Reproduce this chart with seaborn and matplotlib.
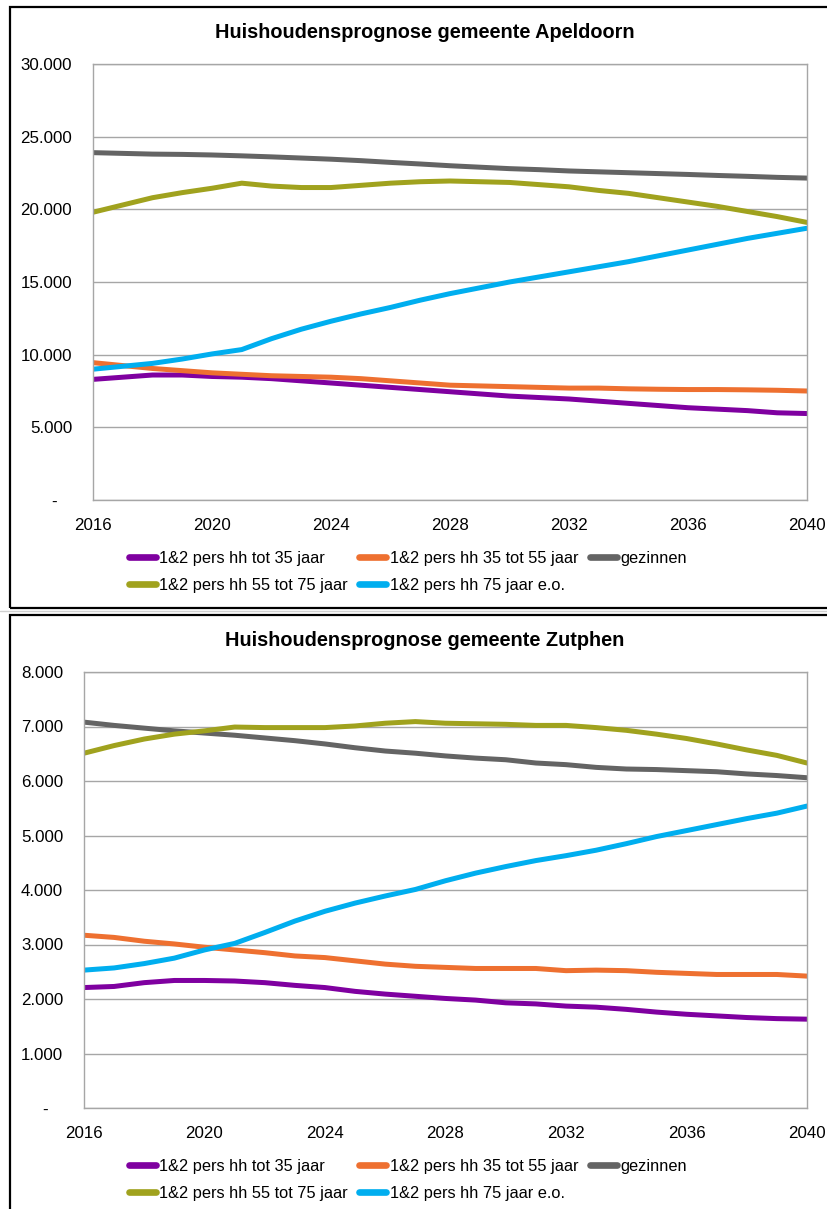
import numpy as np
import pandas as pd
import matplotlib
matplotlib.use("Agg")
import matplotlib.pyplot as plt
import seaborn as sns
from matplotlib.patches import Rectangle
from matplotlib.ticker import FuncFormatter

years = list(range(2016, 2041))
series_names = ["1&2 pers hh tot 35 jaar", "1&2 pers hh 35 tot 55 jaar", "gezinnen",
                "1&2 pers hh 55 tot 75 jaar", "1&2 pers hh 75 jaar e.o."]
colors = ["#7F00A0", "#EE7030", "#646464", "#A0A21E", "#00AEEF"]

# Apeldoorn
apd_tot35 = [8300, 8450, 8600, 8600, 8500, 8450, 8350, 8200, 8050, 7900, 7750, 7600, 7450,
             7300, 7150, 7050, 6950, 6800, 6650, 6500, 6350, 6250, 6150, 6000, 5950]
apd_35_55 = [9450, 9250, 9050, 8900, 8750, 8650, 8550, 8500, 8450, 8350, 8200, 8050, 7900,
             7850, 7800, 7750, 7700, 7700, 7650, 7620, 7600, 7600, 7580, 7550, 7500]
apd_gezin = [23900, 23850, 23800, 23780, 23740, 23680, 23610, 23530, 23450, 23350, 23230, 23120, 23000,
             22900, 22800, 22730, 22640, 22580, 22520, 22460, 22400, 22330, 22270, 22200, 22150]
apd_55_75 = [19800, 20300, 20800, 21150, 21450, 21800, 21600, 21500, 21500, 21650, 21800, 21900, 21950,
             21900, 21850, 21700, 21550, 21300, 21100, 20800, 20500, 20200, 19850, 19500, 19100]
apd_75plus = [9000, 9200, 9400, 9700, 10050, 10350, 11100, 11750, 12300, 12800, 13250, 13750, 14200,
              14600, 15000, 15350, 15700, 16050, 16400, 16800, 17200, 17600, 18000, 18350, 18700]

# Zutphen
ztp_tot35 = [2210, 2230, 2300, 2340, 2340, 2330, 2300, 2250, 2210, 2140, 2090, 2050, 2010,
             1980, 1930, 1910, 1870, 1850, 1810, 1760, 1720, 1690, 1660, 1640, 1630]
ztp_35_55 = [3170, 3130, 3060, 3010, 2950, 2900, 2850, 2790, 2760, 2700, 2640, 2600, 2580,
             2560, 2560, 2560, 2520, 2530, 2520, 2490, 2470, 2450, 2450, 2450, 2420]
ztp_gezin = [7080, 7020, 6970, 6920, 6880, 6840, 6790, 6740, 6680, 6610, 6550, 6510, 6460,
             6420, 6390, 6330, 6300, 6250, 6220, 6210, 6190, 6170, 6130, 6100, 6060]
ztp_55_75 = [6510, 6650, 6770, 6860, 6920, 6990, 6980, 6980, 6980, 7010, 7060, 7090, 7060,
             7050, 7040, 7020, 7020, 6980, 6930, 6860, 6780, 6680, 6570, 6470, 6330]
ztp_75plus = [2530, 2570, 2650, 2750, 2900, 3020, 3220, 3430, 3610, 3760, 3890, 4010, 4170,
              4310, 4430, 4540, 4630, 4730, 4850, 4980, 5090, 5200, 5310, 5410, 5540]

x_ticks = [2016, 2020, 2024, 2028, 2032, 2036, 2040]

titles = ["Huishoudensprognose gemeente Apeldoorn", "Huishoudensprognose gemeente Zutphen"]

sns.set_style("white")
plt.rcParams["font.family"] = ["Liberation Sans", "DejaVu Sans"]
plt.rcParams["text.color"] = "black"

W, H = 828, 1209
fig = plt.figure(figsize=(W / 100, H / 100), dpi=100)


def long_df(vals):
    rows = []
    for name, v in zip(series_names, vals):
        for yr, val in zip(years, v):
            rows.append({"year": yr, "value": val, "series": name})
    return pd.DataFrame(rows)


def fmt(v, pos):
    if abs(v) < 1e-9:
        return "-   "
    return f"{int(round(v)):,}".replace(",", ".")


panels = [
    dict(vals=[apd_tot35, apd_35_55, apd_gezin, apd_55_75, apd_75plus],
         ax_px=(93, 64, 807, 500), ymax=30000, ystep=5000,
         box=(10, 7, 900, 608), title_y=32, leg_y=551),
    dict(vals=[ztp_tot35, ztp_35_55, ztp_gezin, ztp_55_75, ztp_75plus],
         ax_px=(84, 672, 807, 1108), ymax=8000, ystep=1000,
         box=(10, 615, 900, 1300), title_y=640, leg_y=1159),
]

# light separator line between panels
fig.add_artist(plt.Line2D([0, 1], [1 - 611 / H, 1 - 611 / H], color="#D0D0D0", lw=1,
                          transform=fig.transFigure))

for i, p in enumerate(panels):
    x0, y0, x1, y1 = p["box"]
    fig.add_artist(Rectangle((x0 / W, 1 - y1 / H), (x1 - x0) / W, (y1 - y0) / H,
                             transform=fig.transFigure, fill=False, edgecolor="black",
                             lw=1.6, clip_on=False))
    l, t, r, b = p["ax_px"]
    ax = fig.add_axes([l / W, 1 - b / H, (r - l) / W, (b - t) / H])
    df = long_df(p["vals"])
    sns.lineplot(data=df, x="year", y="value", hue="series", hue_order=series_names,
                 palette=colors, lw=3.6, ax=ax, legend=False)
    ax.set_xlim(2016, 2040)
    ax.set_ylim(0, p["ymax"])
    ax.set_xticks(x_ticks)
    ax.set_yticks(np.arange(0, p["ymax"] + 1, p["ystep"]))
    ax.yaxis.set_major_formatter(FuncFormatter(fmt))
    ax.grid(axis="y", color="#A6A6A6", lw=1)
    ax.set_axisbelow(True)
    for s in ax.spines.values():
        s.set_color("#A6A6A6")
        s.set_linewidth(1)
    ax.tick_params(axis="both", length=0, labelsize=12.2, colors="black")
    ax.tick_params(axis="y", pad=15)
    ax.tick_params(axis="x", pad=13)
    ax.set_xlabel("")
    ax.set_ylabel("")
    fig.text(425 / W, 1 - p["title_y"] / H, titles[i], ha="center", va="center",
             fontsize=14.3, fontweight="bold", color="black")
    handles = [plt.Line2D([], [], color=c, lw=4.8, solid_capstyle="round") for c in colors]
    order = [0, 3, 1, 4, 2]
    leg = fig.legend([handles[k] for k in order], [series_names[k] for k in order],
                     ncol=3, loc="upper left", bbox_to_anchor=(129 / W, 1 - p["leg_y"] / H),
                     frameon=False, fontsize=11.8, handlelength=1.65, handletextpad=0.2,
                     columnspacing=0.7, labelspacing=0.72, borderaxespad=0, borderpad=0,
                     labelcolor="black")

fig.savefig("out.png", dpi=100, facecolor="white")
